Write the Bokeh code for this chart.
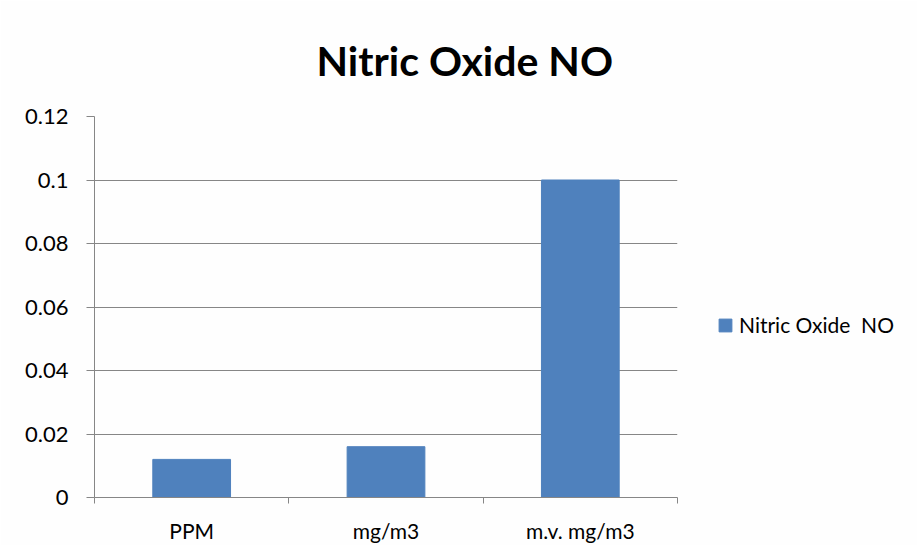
from bokeh.plotting import figure
from bokeh.models import FixedTicker, Range1d, Legend, LegendItem, ColumnDataSource
from bokeh.embed import file_html
from bokeh.resources import INLINE

categories = ["PPM", "mg/m3", "m.v. mg/m3"]
values = [0.012, 0.016, 0.1]
series_name = "Nitric Oxide  NO"
y_ticks = [0, 0.02, 0.04, 0.06, 0.08, 0.1, 0.12]
y_tick_labels = ["0", "0.02", "0.04", "0.06", "0.08", "0.1", "0.12"]

FONT = "Lato"
GRID = "#868686"

xs = [i + 0.5 for i in range(len(categories))]
src = ColumnDataSource(dict(x=xs, top=values, cat=categories))

p = figure(frame_width=583, frame_height=381, output_backend="svg", toolbar_location=None,
           x_range=Range1d(0, len(categories)), y_range=Range1d(0, 0.12),
           min_border_left=94, min_border_right=224, min_border_top=116,
           min_border_bottom=41)
p.background_fill_color = "#FEFEFE"
p.border_fill_color = "#FEFEFE"
p.outline_line_color = None

r = p.vbar(x="x", top="top", width=0.4, source=src, fill_color="#4F81BD",
           line_color="#4F81BD")

# title
p.title.text = series_name
p.title.text_font = FONT
p.title.text_font_style = "bold"
p.title.text_font_size = "41px"
p.title.text_color = "#000000"
p.title.align = "left"
p.title.offset = 222
p.title.standoff = 64

# x axis
p.xaxis.ticker = FixedTicker(ticks=xs, minor_ticks=list(range(len(categories) + 1)))
p.xaxis.major_label_overrides = {x: c for x, c in zip(xs, categories)}
p.xaxis.major_tick_out = 0
p.xaxis.major_tick_in = 0
p.xaxis.minor_tick_out = 6
p.xaxis.minor_tick_in = 0
p.xaxis.minor_tick_line_color = GRID
p.xaxis.axis_line_color = GRID
p.xaxis.major_label_standoff = 14
p.xaxis.major_label_text_font = FONT
p.xaxis.major_label_text_font_size = "21px"
p.xaxis.major_label_text_color = "#000000"

# y axis
p.yaxis.ticker = FixedTicker(ticks=y_ticks, minor_ticks=[])
p.yaxis.major_label_overrides = {t: l for t, l in zip(y_ticks, y_tick_labels)}
p.yaxis.major_tick_out = 8
p.yaxis.major_tick_in = 0
p.yaxis.major_tick_line_color = GRID
p.yaxis.axis_line_color = GRID
p.yaxis.major_label_standoff = 18
p.yaxis.major_label_text_font = FONT
p.yaxis.major_label_text_font_size = "22px"
p.yaxis.major_label_text_color = "#000000"

p.xgrid.grid_line_color = None
p.ygrid.grid_line_color = GRID
p.ygrid.grid_line_width = 1

legend = Legend(items=[LegendItem(label=series_name, renderers=[r])],
                location=(40, 160), glyph_width=16, glyph_height=16,
                label_standoff=6, padding=0, margin=0, border_line_color=None,
                background_fill_alpha=0, label_text_font=FONT,
                label_text_font_size="21px", label_text_color="#000000")
p.add_layout(legend, "right")

open("out.html", "w").write(file_html(p, INLINE))
